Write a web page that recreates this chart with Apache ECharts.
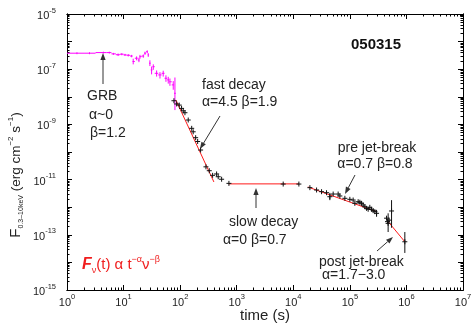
<!DOCTYPE html>
<html><head><meta charset="utf-8">
<script src="https://cdn.jsdelivr.net/npm/echarts@6/dist/echarts.min.js"></script>
<style>html,body{margin:0;padding:0;background:#fff}#c{width:473px;height:324px}</style>
</head><body><div id="c"></div><script>
// ---- tick values ----
var xMajorTicks = [1, 10, 100, 1e3, 1e4, 1e5, 1e6, 1e7];
var xLabelTicks = [1, 10, 100, 1e3, 1e4, 1e5, 1e6, 1e7];
var yMajorTicks = [1e-15, 1e-14, 1e-13, 1e-12, 1e-11, 1e-10, 1e-9, 1e-8, 1e-7, 1e-6, 1e-5];
var yLabelTicks = [1e-15, 1e-13, 1e-11, 1e-9, 1e-7, 1e-5];
var minorMultipliers = [2, 3, 4, 5, 6, 7, 8, 9];

// ---- BAT (magenta) points ----
var magT   = [1.5, 2.5, 4.4, 5.6, 6.6, 8.0, 9.3, 10.6, 12.1, 13.9, 14.8, 17.0, 18.7, 19.5, 22.3, 23.9, 26.2, 27.3, 29.2, 31.3, 33.5, 38.4, 44.0, 50.2, 56.1, 61.6, 66.0, 75.5, 80.9];
var magF   = [3.8e-7, 3.8e-7, 4.0e-7, 4.0e-7, 3.6e-7, 3.35e-7, 3.5e-7, 3.3e-7, 3.2e-7, 3.0e-7, 1.9e-7, 2.5e-7, 2.15e-7, 2.85e-7, 3.0e-7, 3.8e-7, 4.3e-7, 3.3e-7, 1.65e-7, 9.4e-8, 1.23e-7, 7.1e-8, 6.2e-8, 7.1e-8, 4.7e-8, 4.1e-8, 3.5e-8, 2.7e-8, 1.34e-8];
var magTLo = [1.0, 2.0, 3.2, 5.0, 6.1, 7.3, 8.6, 10.0, 11.3, 13.0, 14.4, 15.8, 17.8, 19.1, 20.8, 23.1, 25.0, 26.7, 28.2, 30.2, 32.4, 35.5, 41, 47, 53, 59, 64, 71, 78];
var magTHi = [2.0, 3.2, 5.0, 6.1, 7.3, 8.6, 10.0, 11.3, 13.0, 14.4, 15.8, 17.8, 19.1, 20.8, 23.1, 25.0, 26.7, 28.2, 30.2, 32.4, 35.5, 41, 47, 53, 59, 64, 71, 78, 84];
var magFLo = [3.5e-7, 3.5e-7, 3.7e-7, 3.7e-7, 3.3e-7, 3.0e-7, 3.2e-7, 3.0e-7, 2.9e-7, 2.7e-7, 1.5e-7, 2.1e-7, 1.8e-7, 2.4e-7, 2.6e-7, 3.3e-7, 3.8e-7, 2.8e-7, 1.3e-7, 6.5e-8, 9.5e-8, 5.4e-8, 4.6e-8, 5.4e-8, 3.5e-8, 3.0e-8, 2.5e-8, 1.8e-8, 3.3e-9];
var magFHi = [4.1e-7, 4.1e-7, 4.3e-7, 4.3e-7, 3.9e-7, 3.7e-7, 3.8e-7, 3.6e-7, 3.5e-7, 3.3e-7, 2.4e-7, 2.9e-7, 2.6e-7, 3.3e-7, 3.4e-7, 4.3e-7, 4.8e-7, 3.8e-7, 2.1e-7, 1.25e-7, 1.5e-7, 9.0e-8, 7.8e-8, 8.8e-8, 6.0e-8, 5.3e-8, 4.6e-8, 3.7e-8, 5.0e-8];

// ---- XRT (black) points ----
var blkT = [77.7, 86.7, 96.4, 106, 113.5, 121.6, 139, 160, 170, 188, 204, 230, 286, 327, 375, 441, 471, 541, 728, 6630, 12560, 19650, 25800, 31600, 38700, 44300, 50700, 62100, 66600, 81600, 100000, 114300, 122500, 140200, 150200, 161000, 171900, 184100, 197300, 210600, 225400, 241500, 258100, 276500, 296400, 445000, 463000, 475000, 495000, 546000, 937000];
var blkF = [7.2e-9, 5.5e-9, 5.0e-9, 3.8e-9, 3.1e-9, 2.65e-9, 1.44e-9, 7.2e-10, 5.4e-10, 3.3e-10, 2.4e-10, 1.18e-10, 2.9e-11, 2.1e-11, 1.43e-11, 1.6e-11, 1.27e-11, 1.03e-11, 7.3e-12, 6.9e-12, 6.9e-12, 5.1e-12, 4.2e-12, 3.65e-12, 3.35e-12, 2.4e-12, 3.0e-12, 3.0e-12, 2.55e-12, 2.1e-12, 1.93e-12, 1.82e-12, 1.38e-12, 1.58e-12, 1.51e-12, 1.38e-12, 1.2e-12, 1.04e-12, 9.1e-13, 8.4e-13, 9.9e-13, 8.4e-13, 7.5e-13, 6.9e-13, 6.0e-13, 4.0e-13, 3.0e-13, 2.6e-13, 3.4e-13, 7.3e-13, 5.6e-14];
var blkErrT  = [44300, 296400, 475000, 546000, 937000];
var blkErrLo = [1.8e-12, 4.5e-13, 1.26e-13, 1.8e-13, 2.2e-14];
var blkErrHi = [3.3e-12, 8.0e-13, 6.0e-13, 1.8e-12, 1.26e-13];

// ---- fitted power-law segments ----
var fitFastT = [84, 395],       fitFastF = [7.7e-9, 8.2e-12];
var fitSlowT = [728, 12560],    fitSlowF = [7.0e-12, 7.0e-12];
var fitPreT  = [18100, 296400], fitPreF  = [5.4e-12, 6.9e-13];
var fitPostT = [475000, 937000],fitPostF = [3.0e-13, 5.6e-14];

function zip() { var a = arguments, out = []; for (var i = 0; i < a[0].length; i++) { var r = []; for (var j = 0; j < a.length; j++) r.push(a[j][i]); out.push(r); } return out; }
function minors(majors) { var out = []; for (var i = 0; i < majors.length - 1; i++) for (var k = 0; k < minorMultipliers.length; k++) out.push(majors[i] * minorMultipliers[k]); return out; }

var FONT = '"Liberation Sans", Arial, Helvetica, sans-serif';
var powRich = {
  b: { fontSize: 11, fontFamily: FONT, color: '#222', lineHeight: 15, verticalAlign: 'bottom' },
  s: { fontSize: 7.5, fontFamily: FONT, color: '#222', lineHeight: 8, verticalAlign: 'top' }
};
function powFmt(v) { var e = Math.round(Math.log10(v)); return '{b|10}{s|' + (e < 0 ? '-' + (-e) : e) + '}'; }

function mkAxis(dim, pos, ticks, len, labels) {
  var isX = dim === 'x';
  return {
    type: 'log', logBase: 10, gridIndex: 0, position: pos,
    min: isX ? 1 : 1e-15, max: isX ? 1e7 : 1e-5,
    axisLine: { show: true, onZero: false, lineStyle: { color: '#000', width: 1 } },
    axisTick: { show: true, inside: true, length: len, customValues: ticks, lineStyle: { color: '#000', width: 1 } },
    axisLabel: labels ? { show: true, customValues: labels, formatter: powFmt, rich: powRich, margin: isX ? 3 : 11 } : { show: false },
    splitLine: { show: false }, minorTick: { show: false }, minorSplitLine: { show: false }
  };
}

function segLine(x1, y1, x2, y2, color) { return { type: 'line', shape: { x1: x1, y1: y1, x2: x2, y2: y2 }, style: { stroke: color, lineWidth: 1 } }; }

function fitSeries(T, F) {
  return { type: 'line', data: zip(T, F), symbol: 'none', silent: true, z: 2,
    lineStyle: { color: '#ff1a1a', width: 1 }, xAxisIndex: 0, yAxisIndex: 0, animation: false };
}

function arrow(x1, y1, x2, y2) {
  var dx = x2 - x1, dy = y2 - y1, L = Math.sqrt(dx * dx + dy * dy), ux = dx / L, uy = dy / L;
  var hl = 7, hw = 2.6;
  var bx = x2 - ux * hl, by = y2 - uy * hl;
  return { type: 'group', silent: true, children: [
    { type: 'line', shape: { x1: x1, y1: y1, x2: bx, y2: by }, style: { stroke: '#333', lineWidth: 1 } },
    { type: 'polygon', shape: { points: [[x2, y2], [bx - uy * hw, by + ux * hw], [bx + uy * hw, by - ux * hw]] }, style: { fill: '#333' } }
  ]};
}
function txt(x, y, s, opt) {
  opt = opt || {};
  return { type: 'text', x: x, y: y, silent: true, rotation: opt.rot || 0,
    style: { text: s, font: (opt.weight || 'normal') + ' ' + (opt.size || 14) + 'px ' + FONT, fill: opt.color || '#222',
      align: opt.align || 'left', verticalAlign: 'middle', textAlign: opt.align || 'left', textVerticalAlign: 'middle', rich: opt.rich } };
}

var chart = echarts.init(document.getElementById('c'), null, { renderer: 'canvas' });
chart.setOption({
  animation: false,
  backgroundColor: '#fff',
  grid: { left: 67, right: 10, top: 14, bottom: 34, containLabel: false, outerBoundsMode: 'none' },
  xAxis: [
    mkAxis('x', 'bottom', xMajorTicks, 5, xLabelTicks),
    mkAxis('x', 'bottom', minors(xMajorTicks), 2.5, null),
    mkAxis('x', 'top', xMajorTicks, 5, null),
    mkAxis('x', 'top', minors(xMajorTicks), 2.5, null)
  ],
  yAxis: [
    mkAxis('y', 'left', yMajorTicks, 5, yLabelTicks),
    mkAxis('y', 'left', minors(yMajorTicks), 2.5, null),
    mkAxis('y', 'right', yMajorTicks, 5, null),
    mkAxis('y', 'right', minors(yMajorTicks), 2.5, null)
  ],
  series: [
    fitSeries(fitFastT, fitFastF),
    fitSeries(fitSlowT, fitSlowF),
    fitSeries(fitPreT, fitPreF),
    fitSeries(fitPostT, fitPostF),
    { type: 'custom', xAxisIndex: 0, yAxisIndex: 0, z: 3,
      data: zip(magT, magF, magTLo, magTHi, magFLo, magFHi),
      encode: { x: 0, y: 1 },
      renderItem: function (params, api) {
        var t = api.value(0), f = api.value(1);
        var a = api.coord([api.value(2), f]), b = api.coord([api.value(3), f]);
        var c = api.coord([t, api.value(4)]), d = api.coord([t, api.value(5)]);
        return { type: 'group', children: [segLine(a[0], a[1], b[0], b[1], '#ff00ff'), segLine(c[0], c[1], d[0], d[1], '#ff00ff')] };
      } },
    { type: 'custom', xAxisIndex: 0, yAxisIndex: 0, z: 4,
      data: zip(blkErrT, blkErrLo, blkErrHi),
      encode: { x: 0, y: 1 },
      renderItem: function (params, api) {
        var c = api.coord([api.value(0), api.value(1)]), d = api.coord([api.value(0), api.value(2)]);
        return segLine(c[0], c[1], d[0], d[1], '#111');
      } },
    { type: 'custom', xAxisIndex: 0, yAxisIndex: 0, z: 5,
      data: zip(blkT, blkF),
      encode: { x: 0, y: 1 },
      renderItem: function (params, api) {
        var p = api.coord([api.value(0), api.value(1)]), h = 2.5;
        return { type: 'group', children: [segLine(p[0] - h, p[1], p[0] + h, p[1], '#111'), segLine(p[0], p[1] - h, p[0], p[1] + h, '#111')] };
      } }
  ],
  graphic: [
    txt(376, 45, '050315', { weight: 'bold', size: 15, align: 'center', color: '#111' }),
    txt(87, 96, 'GRB'), txt(89, 115, 'α~0'), txt(90, 133, 'β=1.2'),
    arrow(103, 84, 103, 53),
    txt(202, 85, 'fast decay'), txt(202, 102, 'α=4.5 β=1.9'),
    arrow(220, 116, 200, 149),
    txt(229, 222, 'slow decay'), txt(223, 240, 'α=0 β=0.7'),
    arrow(256, 208, 256, 188),
    txt(377, 148, 'pre jet-break', { align: 'center' }), txt(375, 164, 'α=0.7 β=0.8', { align: 'center' }),
    arrow(355, 175, 345, 194),
    txt(319, 262, 'post jet-break'), txt(322, 275, 'α=1.7−3.0'),
    arrow(377, 251, 393, 237),
    txt(265, 316, 'time (s)', { size: 15, align: 'center' }),
    txt(82, 265, '{fb|F}{sub|ν}{r|(t) α t}{sup|−α}{r|ν}{sup|−β}', { color: '#f01e1e', rich: {
      fb: { fontSize: 16, fontWeight: 'bold', fontStyle: 'italic', fontFamily: FONT, color: '#f01e1e', lineHeight: 20, verticalAlign: 'middle' },
      r: { fontSize: 15, fontFamily: FONT, color: '#f01e1e', lineHeight: 20, verticalAlign: 'middle' },
      sub: { fontSize: 9, fontFamily: FONT, color: '#f01e1e', lineHeight: 9, verticalAlign: 'bottom' },
      sup: { fontSize: 9, fontFamily: FONT, color: '#f01e1e', lineHeight: 9, verticalAlign: 'top' } } }),
    txt(16, 175, '{f|F}{sub|0.3–10keV}{m| (erg cm}{sup|−2}{m| s}{sup|−1}{m|)}', { rot: Math.PI / 2, align: 'center', rich: {
      f: { fontSize: 15, fontFamily: FONT, color: '#222', lineHeight: 18, verticalAlign: 'middle' },
      m: { fontSize: 13.5, fontFamily: FONT, color: '#222', lineHeight: 18, verticalAlign: 'middle' },
      sub: { fontSize: 7, fontFamily: FONT, color: '#222', lineHeight: 7, verticalAlign: 'bottom' },
      sup: { fontSize: 8, fontFamily: FONT, color: '#222', lineHeight: 8, verticalAlign: 'top' } } })
  ]
});
</script></body></html>
